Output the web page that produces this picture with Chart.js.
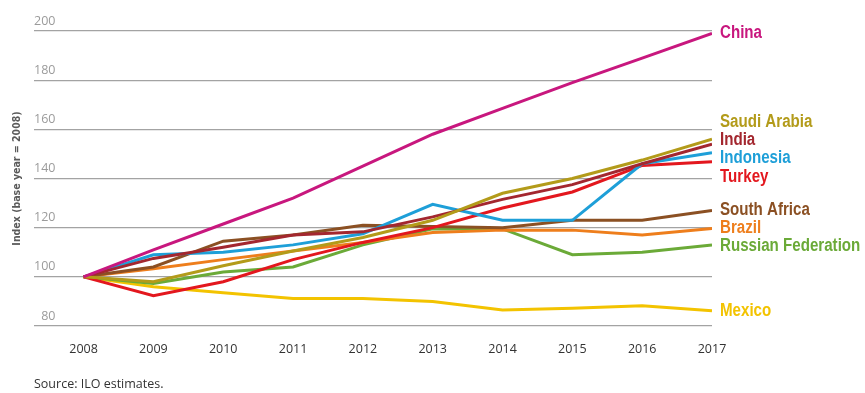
<!DOCTYPE html>
<html lang="en">
<head>
<meta charset="utf-8">
<title>Index (base year = 2008)</title>
<script src="https://cdn.jsdelivr.net/npm/chart.js@4.4.1/dist/chart.umd.min.js"></script>
<style>
    html, body { margin: 0; padding: 0; background: #fff; }
    #wrap { position: relative; width: 865px; height: 393px; }
    #source {
        position: absolute; left: 34px; top: 375px;
        font: 12.5px "Open Sans", sans-serif; color: #333;
    }
</style>
</head>
<body>
<div id="wrap">
    <canvas id="chart"></canvas>
    <div id="source">Source: ILO estimates.</div>
</div>
<script>
// データ
const years = [2008, 2009, 2010, 2011, 2012, 2013, 2014, 2015, 2016, 2017];
const yTicks = [80, 100, 120, 140, 160, 180, 200];

const china       = [100, 111, 121.5, 132, 145, 158, 168.5, 179, 189, 199];
const saudiArabia = [100, 98, 104.5, 110.5, 116, 123, 134, 140, 147.5, 156];
const india       = [100, 107.5, 112, 117, 118.3, 124.4, 131.5, 137.5, 146, 154];
const indonesia   = [100, 109, 110, 113, 117.5, 129.5, 123, 123, 146, 150.5];
const turkey      = [100, 92.3, 98, 107, 114, 120, 128, 134.5, 145.3, 146.8];
const southAfrica = [100, 104, 114.5, 117, 121, 120.5, 120, 123, 123, 127];
const brazil      = [100, 103.3, 107, 110.5, 114, 118, 119, 119, 117, 119.7];
const russia      = [100, 97.3, 102, 104, 113, 119.5, 119.5, 109, 110, 113];
const mexico      = [100, 96, 93.5, 91.2, 91.2, 90, 86.5, 87.2, 88.2, 86.2];

const seriesNames  = ['China', 'Saudi Arabia', 'India', 'Indonesia', 'Turkey', 'South Africa', 'Brazil', 'Russian Federation', 'Mexico'];
const seriesValues = [china, saudiArabia, india, indonesia, turkey, southAfrica, brazil, russia, mexico];
const seriesColors = ['#c8177e', '#b39b1a', '#a3272f', '#1e9fd8', '#e3171e', '#8b5023', '#ee7e1c', '#6baa38', '#f3c300'];

// 細めの書体が無いので横方向に縮めて描く
const labelFont = 'bold 18px "Liberation Sans", Arial, sans-serif';
const labelSqueeze = 0.84;

/**
 * 右端の系列ラベルを描く（重なりを避けて配置）
 */
const endLabels = {
    id: 'endLabels',
    afterDatasetsDraw(chart) {
        const ctx = chart.ctx;
        const area = chart.chartArea;
        const gap = 18.2;

        const items = chart.data.datasets.map((ds, i) => {
            const meta = chart.getDatasetMeta(i);
            const pt = meta.data[meta.data.length - 1];
            return { text: ds.label, color: ds.borderColor, y: pt.y };
        });
        items.sort((a, b) => a.y - b.y);

        // 近いラベルをまとめて等間隔に並べる
        let groups = items.map(it => ({ items: [it], center: it.y }));
        let merged = true;
        while (merged) {
            merged = false;
            for (let i = 0; i < groups.length - 1; i++) {
                const a = groups[i];
                const b = groups[i + 1];
                const aBottom = a.center + (a.items.length - 1) * gap / 2;
                const bTop = b.center - (b.items.length - 1) * gap / 2;
                if (bTop - aBottom < gap) {
                    const all = a.items.concat(b.items);
                    const center = all.reduce((s, it) => s + it.y, 0) / all.length;
                    groups.splice(i, 2, { items: all, center: center });
                    merged = true;
                    break;
                }
            }
        }

        ctx.save();
        ctx.font = labelFont;
        ctx.textAlign = 'left';
        ctx.textBaseline = 'middle';
        groups.forEach(g => {
            const start = g.center - (g.items.length - 1) * gap / 2;
            g.items.forEach((it, k) => {
                ctx.save();
                ctx.translate(area.right + 8, start + k * gap);
                ctx.scale(labelSqueeze, 1);
                ctx.fillStyle = it.color;
                ctx.fillText(it.text, 0, 0);
                ctx.restore();
            });
        });
        ctx.restore();
    }
};

const datasets = seriesNames.map((name, i) => ({
    label: name,
    data: years.map((yr, j) => ({ x: yr, y: seriesValues[i][j] })),
    borderColor: seriesColors[i],
    backgroundColor: seriesColors[i],
    borderWidth: 3,
    pointRadius: 0,
    tension: 0,
    fill: false
}));

new Chart(document.getElementById('chart'), {
    type: 'line',
    data: { datasets: datasets },
    options: {
        responsive: true,
        maintainAspectRatio: false,
        animation: false,
        layout: { padding: { top: 31, right: 153, left: 0, bottom: 0 } },
        plugins: {
            legend: { display: false },
            tooltip: { enabled: false }
        },
        scales: {
            x: {
                type: 'linear',
                min: 2007.29,
                max: 2017,
                grid: { display: false },
                border: { display: false },
                afterBuildTicks: function(scale) {
                    scale.ticks = years.map(v => ({ value: v }));
                },
                afterFit: function(scale) {
                    scale.height = 67;
                },
                ticks: {
                    padding: 8,
                    maxRotation: 0,
                    color: '#333',
                    font: { family: '"Open Sans", sans-serif', size: 12.5 },
                    callback: function(v) { return String(v); }
                }
            },
            y: {
                min: 80,
                max: 200,
                grid: { color: '#a3a3a3', lineWidth: 1.3, drawTicks: false },
                border: { display: false },
                afterBuildTicks: function(scale) {
                    scale.ticks = yTicks.map(v => ({ value: v }));
                },
                afterFit: function(scale) {
                    scale.width = 34;
                },
                ticks: {
                    mirror: true,
                    padding: 0,
                    labelOffset: -10,
                    color: '#9b9b9b',
                    font: { family: '"Open Sans", sans-serif', size: 12.5 },
                    callback: function(v) { return String(v).padStart(3, '\u2007'); }
                },
                title: {
                    display: true,
                    text: 'Index (base year = 2008)',
                    color: '#5a5a5a',
                    padding: { top: 11, bottom: 0 },
                    font: { family: '"DejaVu Sans Condensed", sans-serif', size: 10.5, weight: 'bold' }
                }
            }
        }
    },
    plugins: [endLabels]
});
</script>
</body>
</html>
